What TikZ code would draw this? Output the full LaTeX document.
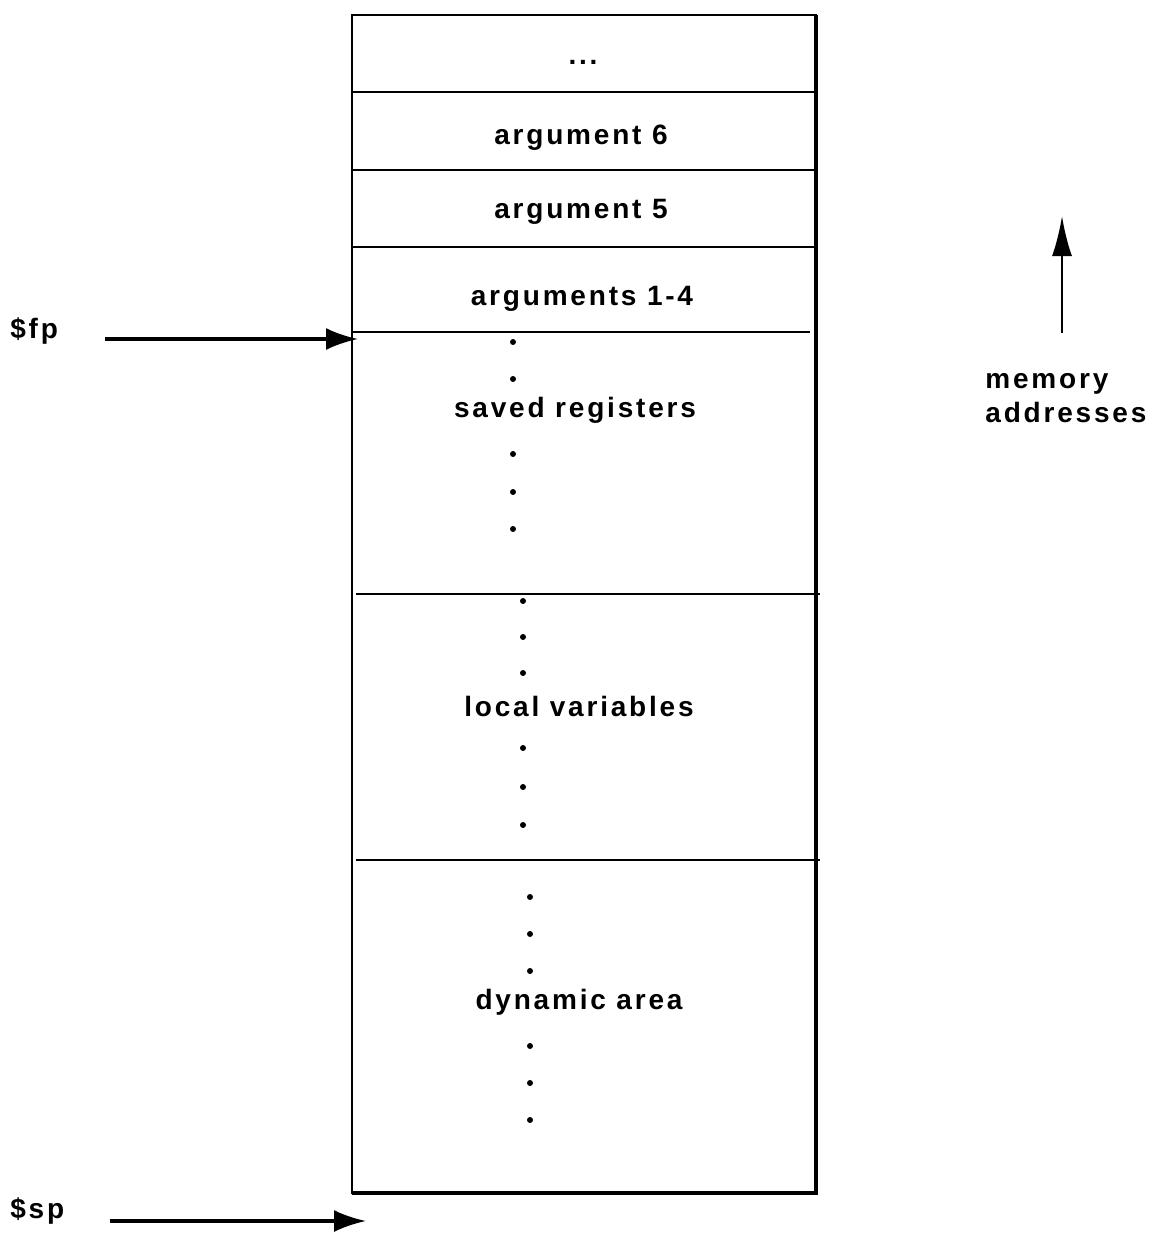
\documentclass[tikz,border=0pt]{standalone}
\usepackage{fontspec}
\setmainfont{Liberation Sans}[LetterSpace=10]
\usetikzlibrary{positioning,arrows.meta}

\tikzset{
  cell/.style={font=\bfseries\fontsize{14}{17}\selectfont, inner sep=0pt},
  reg/.style={font=\bfseries\fontsize{14}{17}\selectfont, inner sep=0pt, anchor=west},
  ptr/.style={line width=1.6pt, -{Latex[length=16pt,width=11pt]}},
}

\begin{document}
\begin{tikzpicture}[x=0.5pt,y=-0.5pt]
                \useasboundingbox (0,0) rectangle (1166,1248);
                % the frame
                \draw [line width=1pt] (352,15) rectangle (816,1193);
                \draw [line width=2pt] (816,15) -- (816,1193) -- (352,1193);
                \draw [line width=1pt] (352,92) -- (816,92);
                \draw [line width=1pt] (352,170) -- (816,170);
                \draw [line width=1pt] (352,247) -- (816,247);
                \draw [line width=1pt] (352,332) -- (810,332);
                \draw [line width=1pt] (356,594) -- (820,594);
                \draw [line width=1pt] (356,860) -- (820,860);
                % cell labels
                \node [cell] (more) at (583,62) {...};
                \node [cell] (arg6) at (581,138) {argument 6};
                \node [cell] (arg5) at (581,212) {argument 5};
                \node [cell] (args) at (582,299) {arguments 1-4};
                \node [cell] (saved) at (575,410) {saved registers};
                \node [cell] (locals) at (579,706) {local variables};
                \node [cell] (dyn) at (579,1002) {dynamic area};
                % dots
                \foreach \y in {342,379,454,492,529}
                    \fill (513,\y) circle (1.5pt);
                \foreach \y in {601,637,673,748,787,825}
                    \fill (523,\y) circle (1.5pt);
                \foreach \y in {897,934,971,1046,1083,1120}
                    \fill (530,\y) circle (1.5pt);
                % pointers
                \node [reg] (fp) at (10,331) {\$fp};
                \coordinate (fpstart) at (105,339);
                \coordinate (fpend) at (358,339);
                \draw [ptr] (fpstart) -- (fpend);
                \node [reg] (sp) at (10,1211) {\$sp};
                \coordinate (spstart) at (110,1221);
                \coordinate (spend) at (366,1221);
                \draw [ptr] (spstart) -- (spend);
                % memory direction
                \coordinate (memlow) at (1062,333);
                \coordinate (memhigh) at (1062,216);
                \draw [line width=1.2pt, -{Latex[length=20pt,width=10pt]}] (memlow) -- (memhigh);
                \node [reg, align=left] (mem) at (985,398) {memory\\addresses};
            \end{tikzpicture}
\end{document}
